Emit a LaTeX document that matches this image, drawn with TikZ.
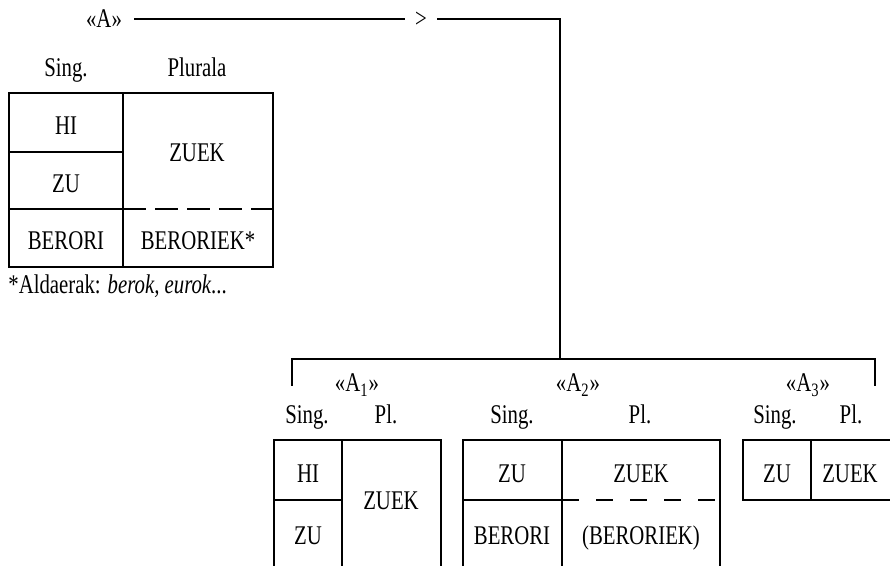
\documentclass[tikz,border=0pt]{standalone}
\usepackage{fontspec}
\setmainfont[FakeStretch=0.77]{Liberation Serif}
\tikzset{
  txt/.style={anchor=base,inner sep=0pt,font=\fontsize{13.5}{15}\selectfont},
  grid/.style={line width=0.7pt},
  gap/.style={line width=0.7pt,dash pattern=on 11.5pt off 4.5pt},
  gapb/.style={line width=0.7pt,dash pattern=on 8.5pt off 8.5pt}
}
\begin{document}
\begin{tikzpicture}[x=0.5pt,y=-0.5pt]
      \useasboundingbox (0,0) rectangle (890,566);
      \draw
        (104,28) node[txt,inner xsep=6pt] (A){«A»}
        (421,28) node[txt,inner xsep=5pt] (gt){>}
        (560,19) coordinate (top)
        (560,359) coordinate (hub)
        (292,386) coordinate (bl)
        (875,386) coordinate (br);
      \begin{scope}[grid]
        \draw (A.east |- top) to (gt.west |- top);
        \draw (gt.east |- top) to (top) to (hub);
        \draw (bl) |- (hub) -| (br);
      \end{scope}
      \path
        (66,77) node[txt] (sg){Sing.}
        (197,77) node[txt] (plr){Plurala}
        (66,135) node[txt] (hi){HI}
        (66,193) node[txt] (zu){ZU}
        (197,162) node[txt] (zuek){ZUEK}
        (66,250) node[txt] (berori){BERORI}
        (198,250) node[txt] (beroriek){BERORIEK*}
        (8,294) node[txt,anchor=base west] (note){*Aldaerak: \textit{berok, eurok}...};
      \begin{scope}[grid]
        \draw (9,93) rectangle (273,267);
        \draw (123,93) to (123,267);
        \draw (9,152) to (123,152);
        \draw (9,209) to (123,209);
        \draw[gap] (123,209) to (273,209);
      \end{scope}
      \path
        (357,392) node[txt] (a1){«A\textsubscript{1}»}
        (307,424) node[txt] (sg1){Sing.}
        (386,424) node[txt] (pl1){Pl.}
        (308,483) node[txt] (hi1){HI}
        (308,545) node[txt] (zu1){ZU}
        (391,510) node[txt] (zuek1){ZUEK}
        (578,392) node[txt] (a2){«A\textsubscript{2}»}
        (512,424) node[txt] (sg2){Sing.}
        (640,424) node[txt] (pl2){Pl.}
        (512,483) node[txt] (zu2){ZU}
        (641,483) node[txt] (zuek2){ZUEK}
        (512,545) node[txt] (berori2){BERORI}
        (641,545) node[txt] (beroriek2){(BERORIEK)}
        (808,392) node[txt] (a3){«A\textsubscript{3}»}
        (775,424) node[txt] (sg3){Sing.}
        (851,424) node[txt] (pl3){Pl.}
        (777,483) node[txt] (zu3){ZU}
        (850,483) node[txt] (zuek3){ZUEK};
      \begin{scope}[grid]
        \draw (274,566) to (274,440) to (441,440) to (441,566);
        \draw (342,440) to (342,566);
        \draw (274,500) to (342,500);
        \draw (463,566) to (463,440) to (720,440) to (720,566);
        \draw (562,440) to (562,566);
        \draw (463,500) to (562,500);
        \draw[gapb] (562,500) to (720,500);
        \draw (890,440) to (743,440) to (743,500) to (890,500);
        \draw (811,440) to (811,500);
      \end{scope}
    \end{tikzpicture}
\end{document}
